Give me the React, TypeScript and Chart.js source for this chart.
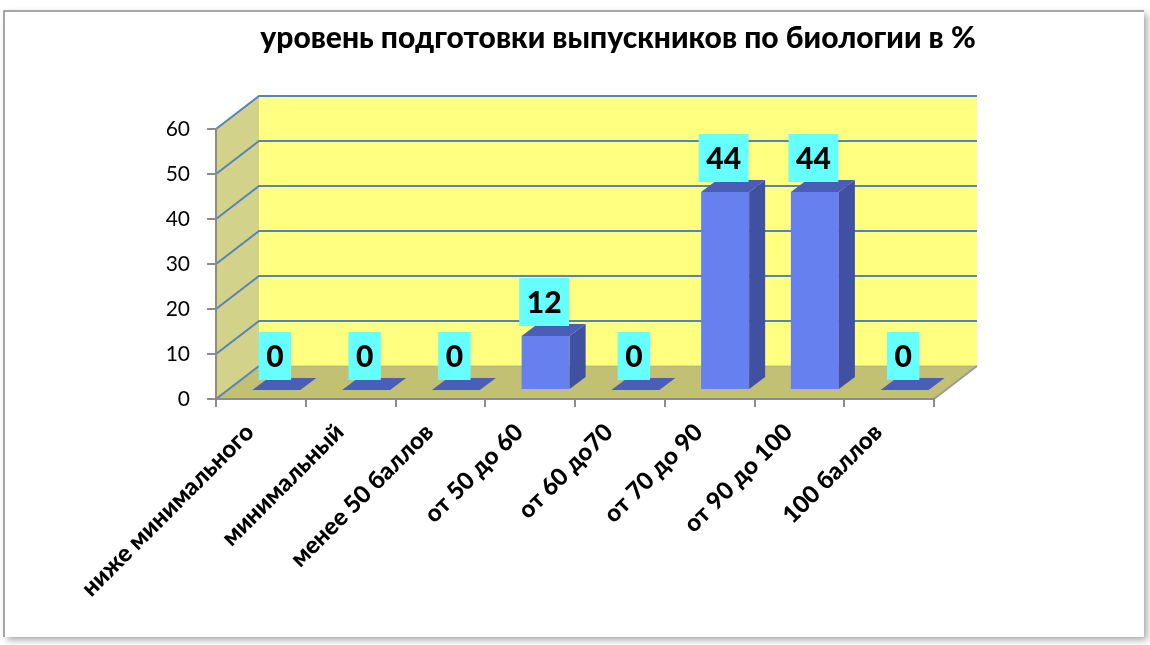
import React, { useEffect, useRef } from "react";
import { Chart, registerables } from "chart.js";

Chart.register(...registerables);

const TITLE = "уровень подготовки выпускников по биологии в %";
const categories = [
  "ниже минимального",
  "минимальный",
  "менее 50 баллов",
  "от 50 до 60",
  "от 60 до70",
  "от 70 до 90",
  "от 90 до 100",
  "100 баллов",
];
const values = [0, 0, 0, 12, 0, 44, 44, 0];
const yMin = 0;
const yMax = 60;
const yStep = 10;

// 3D styling constants
const DX = 43; // wall depth x
const DY = 33; // wall depth y
const BAR_OFF_X = 15.5;
const BAR_OFF_Y = 9;
const BAR_DX = 16;
const BAR_DY = 12;

const wallPlugin = {
  id: "walls3d",
  beforeDraw(chart: any) {
    const { ctx, chartArea, scales } = chart;
    const { left, right, bottom, top } = chartArea;
    const y = scales.y;
    ctx.save();
    // frame
    ctx.save();
    ctx.shadowColor = "rgba(0,0,0,0.35)";
    ctx.shadowBlur = 7;
    ctx.shadowOffsetX = 3;
    ctx.shadowOffsetY = 3;
    ctx.fillStyle = "#ffffff";
    ctx.fillRect(4, 11, 1140, 626);
    ctx.restore();
    ctx.strokeStyle = "#8a8a8a";
    ctx.lineWidth = 1.5;
    ctx.beginPath();
    ctx.moveTo(4, 637);
    ctx.lineTo(4, 11);
    ctx.lineTo(1144, 11);
    ctx.stroke();

    // title
    ctx.fillStyle = "#000";
    ctx.font = "900 30px Lato";
    ctx.textAlign = "center";
    ctx.textBaseline = "middle";
    ctx.fillText(TITLE, 618, 38);

    // back wall
    ctx.fillStyle = "#FFFF80";
    ctx.fillRect(left + DX, top - DY, right - left, bottom - top);
    // side wall
    ctx.fillStyle = "#D3D28A";
    ctx.beginPath();
    ctx.moveTo(left, bottom);
    ctx.lineTo(left, top);
    ctx.lineTo(left + DX, top - DY);
    ctx.lineTo(left + DX, bottom - DY);
    ctx.closePath();
    ctx.fill();
    // floor
    ctx.fillStyle = "#C1C073";
    ctx.beginPath();
    ctx.moveTo(left, bottom);
    ctx.lineTo(right, bottom);
    ctx.lineTo(right + DX, bottom - DY);
    ctx.lineTo(left + DX, bottom - DY);
    ctx.closePath();
    ctx.fill();

    // gridlines
    for (let v = yMin; v <= yMax; v += yStep) {
      const py = y.getPixelForValue(v);
      ctx.strokeStyle = "#5583BC";
      ctx.lineWidth = 2;
      ctx.beginPath();
      ctx.moveTo(left, py);
      ctx.lineTo(left + DX, py - DY);
      if (v > yMin) ctx.lineTo(right + DX, py - DY);
      ctx.stroke();
      if (v === yMin) {
        ctx.strokeStyle = "rgba(150,160,150,0.6)";
        ctx.lineWidth = 1;
        ctx.beginPath();
        ctx.moveTo(left + DX, py - DY);
        ctx.lineTo(right + DX, py - DY);
        ctx.stroke();
      }
    }
    // floor right edge
    ctx.strokeStyle = "#9a9a9a";
    ctx.lineWidth = 2;
    ctx.beginPath();
    ctx.moveTo(right, bottom);
    ctx.lineTo(right + DX, bottom - DY);
    ctx.stroke();
    ctx.restore();
  },
  afterDatasetsDraw(chart: any) {
    const { ctx } = chart;
    const meta = chart.getDatasetMeta(0);
    ctx.save();
    meta.data.forEach((el: any, i: number) => {
      const p = el.getProps(["x", "y", "base", "width"], true);
      const fl = p.x + BAR_OFF_X - p.width / 2;
      const fr = fl + p.width;
      const fb = p.base - BAR_OFF_Y;
      const ft = p.y - BAR_OFF_Y;
      if (values[i] > 0) {
        ctx.fillStyle = "#6680F0";
        ctx.fillRect(fl, ft, p.width, fb - ft);
        ctx.fillStyle = "#3F51A0";
        ctx.beginPath();
        ctx.moveTo(fr, fb);
        ctx.lineTo(fr, ft);
        ctx.lineTo(fr + BAR_DX, ft - BAR_DY);
        ctx.lineTo(fr + BAR_DX, fb - BAR_DY);
        ctx.closePath();
        ctx.fill();
      }
      ctx.fillStyle = "#4A5EB8";
      ctx.beginPath();
      ctx.moveTo(fl, ft);
      ctx.lineTo(fr, ft);
      ctx.lineTo(fr + BAR_DX, ft - BAR_DY);
      ctx.lineTo(fl + BAR_DX, ft - BAR_DY);
      ctx.closePath();
      ctx.fill();
    });
    // labels
    ctx.font = "900 30px Lato";
    ctx.textAlign = "center";
    ctx.textBaseline = "middle";
    meta.data.forEach((el: any, i: number) => {
      const p = el.getProps(["x", "y"], true);
      const txt = String(values[i]);
      const w = ctx.measureText(txt).width + 15;
      const h = 48;
      const cx = p.x + 14;
      const bb = p.y - 19;
      ctx.fillStyle = "#66FFFF";
      ctx.fillRect(cx - w / 2, bb - h, w, h);
      ctx.fillStyle = "#000";
      ctx.fillText(txt, cx, bb - h / 2 + 1);
    });
    ctx.restore();
  },
};

export default function App() {
  const ref = useRef<HTMLCanvasElement>(null);
  useEffect(() => {
    document.body.style.margin = "0";
    const chart = new Chart(ref.current as HTMLCanvasElement, {
      type: "bar",
      data: {
        labels: categories,
        datasets: [
          {
            data: values,
            backgroundColor: "rgba(0,0,0,0)",
            borderWidth: 0,
            barPercentage: 0.535,
            categoryPercentage: 1,
          },
        ],
      },
      options: {
        responsive: false,
        animation: false,
        layout: { padding: { top: 129, left: 0, right: 216, bottom: 0 } },
        plugins: { legend: { display: false }, title: { display: false }, tooltip: { enabled: false } },
        scales: {
          x: {
            offset: true,
            grid: {
              offset: true,
              drawOnChartArea: false,
              drawTicks: true,
              tickLength: 8,
              color: "#8c8c8c",
              lineWidth: 2,
            },
            border: { display: true, color: "#8c8c8c", width: 2 },
            ticks: {
              autoSkip: false,
              minRotation: 45,
              maxRotation: 45,
              color: "#000",
              font: { family: "Lato", size: 24, weight: "900" },
              padding: 11,
              labelOffset: -11,
            },
            afterFit(scale: any) {
              scale.height = 246;
            },
          },
          y: {
            min: yMin,
            max: yMax,
            ticks: {
              stepSize: yStep,
              color: "#000",
              font: { family: "Lato", size: 21 },
              padding: 17,
            },
            grid: {
              drawOnChartArea: false,
              drawTicks: true,
              tickLength: 9,
              color: "#8c8c8c",
              lineWidth: 2,
            },
            border: { display: true, color: "#8c8c8c", width: 2 },
            afterFit(scale: any) {
              scale.width = 216;
            },
          },
        },
      },
      plugins: [wallPlugin],
    } as any);
    return () => chart.destroy();
  }, []);
  return (
    <div style={{ width: 1150, height: 645 }}>
      <canvas ref={ref} width={1150} height={645} style={{ display: "block" }} />
    </div>
  );
}
